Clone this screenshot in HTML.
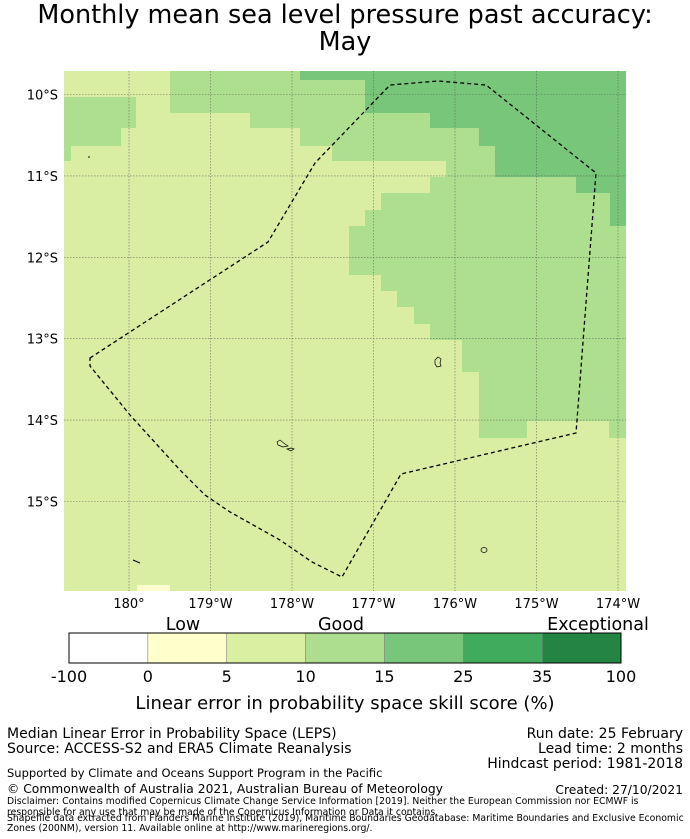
<!DOCTYPE html>
<html><head><meta charset="utf-8"><style>
body{margin:0;background:#fff;width:690px;height:839px;overflow:hidden}
svg{display:block;font-family:"DejaVu Sans","Liberation Sans",sans-serif}
</style></head><body>
<svg id="s" width="690" height="839" viewBox="0 0 690 839" xmlns="http://www.w3.org/2000/svg">
<text x="345" y="23" font-size="25.5" text-anchor="middle">Monthly mean sea level pressure past accuracy:</text>
<text x="345" y="50" font-size="25.5" text-anchor="middle">May</text>
<g>
<rect x="64" y="71" width="562" height="520" fill="#d9eda3"/>
<rect x="137" y="585" width="33" height="6" fill="#fcfcd0"/>
<polygon fill="#addf8e" points="64,97 136,97 136,128 121,128 121,146 71,146 71,161 64,161"/>
<polygon fill="#addf8e" points="170,71 626,71 626,438 609,438 609,421 527,421 527,438 479,438 479,372 462,372 462,340 430,340 430,324 414,324 414,307 397,307 397,291 381,291 381,275 349,275 349,226 365,226 365,210 381,210 381,193 430,193 430,177 446,177 446,161 332,161 332,146 300,146 300,128 250,128 250,113 170,113"/>
<polygon fill="#78c679" points="300,71 626,71 626,226 610,226 610,193 576,193 576,177 495,177 495,146 479,146 479,128 430,128 430,113 365,113 365,80 300,80"/>
<g id="grid" stroke="#555" stroke-width="0.6" stroke-dasharray="1.5,1.5" opacity="0.8"></g>
<polygon fill="none" stroke="#000" stroke-width="1.3" stroke-dasharray="4,3" points="90,358 268,242 315,163 390,85 438,81 486,85 596,173 576,433 401,474 342,577 312,562 280,540 230,512 205,495 180,470 130,415 90,366"/>
<path d="M435,360 l3,-3 3,2 -1,4 1,3 -4,1 -2,-3z" fill="none" stroke="#000" stroke-width="0.7"/>
<path d="M277,442 l3,-2 5,4 3,2 -5,1 -5,-2z M287,449 l4,-1 3,1 -3,2z" fill="none" stroke="#000" stroke-width="0.7"/>
<ellipse cx="484" cy="550" rx="3" ry="2.5" fill="none" stroke="#000" stroke-width="0.7"/>
<path d="M133,560 l7,3" stroke="#000" stroke-width="1"/>
<circle cx="89" cy="157" r="0.8" fill="#000"/>
</g>
<g id="axes" font-size="13"></g>
<g id="cbar"></g>
<text x="183" y="630" font-size="17.5" text-anchor="middle">Low</text>
<text x="341" y="630" font-size="17.5" text-anchor="middle">Good</text>
<text x="598" y="630" font-size="17.5" text-anchor="middle">Exceptional</text>
<text x="345" y="709" font-size="18" text-anchor="middle">Linear error in probability space skill score (%)</text>
<g font-size="14">
<text x="7" y="738">Median Linear Error in Probability Space (LEPS)</text>
<text x="7" y="753">Source: ACCESS-S2 and ERA5 Climate Reanalysis</text>
<text x="683" y="738" text-anchor="end">Run date: 25 February</text>
<text x="683" y="753" text-anchor="end">Lead time: 2 months</text>
<text x="683" y="768" text-anchor="end">Hindcast period: 1981-2018</text>
</g>
<text x="7" y="777" font-size="11.5">Supported by Climate and Oceans Support Program in the Pacific</text>
<text x="7" y="793" font-size="12.3">© Commonwealth of Australia 2021, Australian Bureau of Meteorology</text>
<text x="683" y="794" text-anchor="end" font-size="12.3">Created: 27/10/2021</text>
<g font-size="9.3">
<text x="7" y="804">Disclaimer: Contains modified Copernicus Climate Change Service Information [2019]. Neither the European Commission nor ECMWF is</text>
<text x="7" y="815">responsible for any use that may be made of the Copernicus Information or Data it contains.</text>
<text x="7" y="821">Shapefile data extracted from Flanders Marine Institute (2019), Maritime Boundaries Geodatabase: Maritime Boundaries and Exclusive Economic</text>
<text x="7" y="831">Zones (200NM), version 11. Available online at http://www.marineregions.org/.</text>
</g>
</svg>
<script>
const lonTicks=[180,179,178,177,176,175,174];
const lonLabels=["180°","179°W","178°W","177°W","176°W","175°W","174°W"];
const latTicks=[10,11,12,13,14,15];
const latLabels=["10°S","11°S","12°S","13°S","14°S","15°S"];
const cbBounds=["-100","0","5","10","15","25","35","100"];
const cbColors=["#ffffff","#ffffcc","#d9f0a3","#addd8e","#78c679","#41ab5d","#238443"];
const NS="http://www.w3.org/2000/svg";
const xLon=l=>129+(180-l)*81.5;
const yLat=l=>94.5+(l-10)*81.4;
const grid=document.getElementById('grid'),axes=document.getElementById('axes'),cb=document.getElementById('cbar');
function mk(p,t,a){const e=document.createElementNS(NS,t);for(const k in a)e.setAttribute(k,a[k]);p.appendChild(e);return e;}
lonTicks.forEach((l,i)=>{const x=xLon(l);
 const g=mk(grid,'line',{x1:x,x2:x,y1:71,y2:591});
 
 
 const t=mk(axes,'text',{x:x,y:608,'text-anchor':'middle'});t.textContent=lonLabels[i];
 
 
});
latTicks.forEach((l,i)=>{const y=yLat(l);
 const g=mk(grid,'line',{x1:64,x2:626,y1:y,y2:y});
 
 
 const t=mk(axes,'text',{x:58,y:y+5,'text-anchor':'end'});t.textContent=latLabels[i];
 
 
});
const cx0=69,cw=(621-69)/cbColors.length;
cbColors.forEach((c,i)=>{const r=mk(cb,'rect',{x:cx0+i*cw,y:633,width:cw,height:30,fill:c,stroke:'#888','stroke-width':0.6});
 
 });
mk(cb,'rect',{x:cx0,y:633,width:621-69,height:30,fill:'none',stroke:'#000','stroke-width':1});
cbBounds.forEach((b,i)=>{const t=mk(cb,'text',{x:cx0+i*cw,y:682,'font-size':16,'text-anchor':'middle'});t.textContent=b;
 
 });
</script>
</body></html>
